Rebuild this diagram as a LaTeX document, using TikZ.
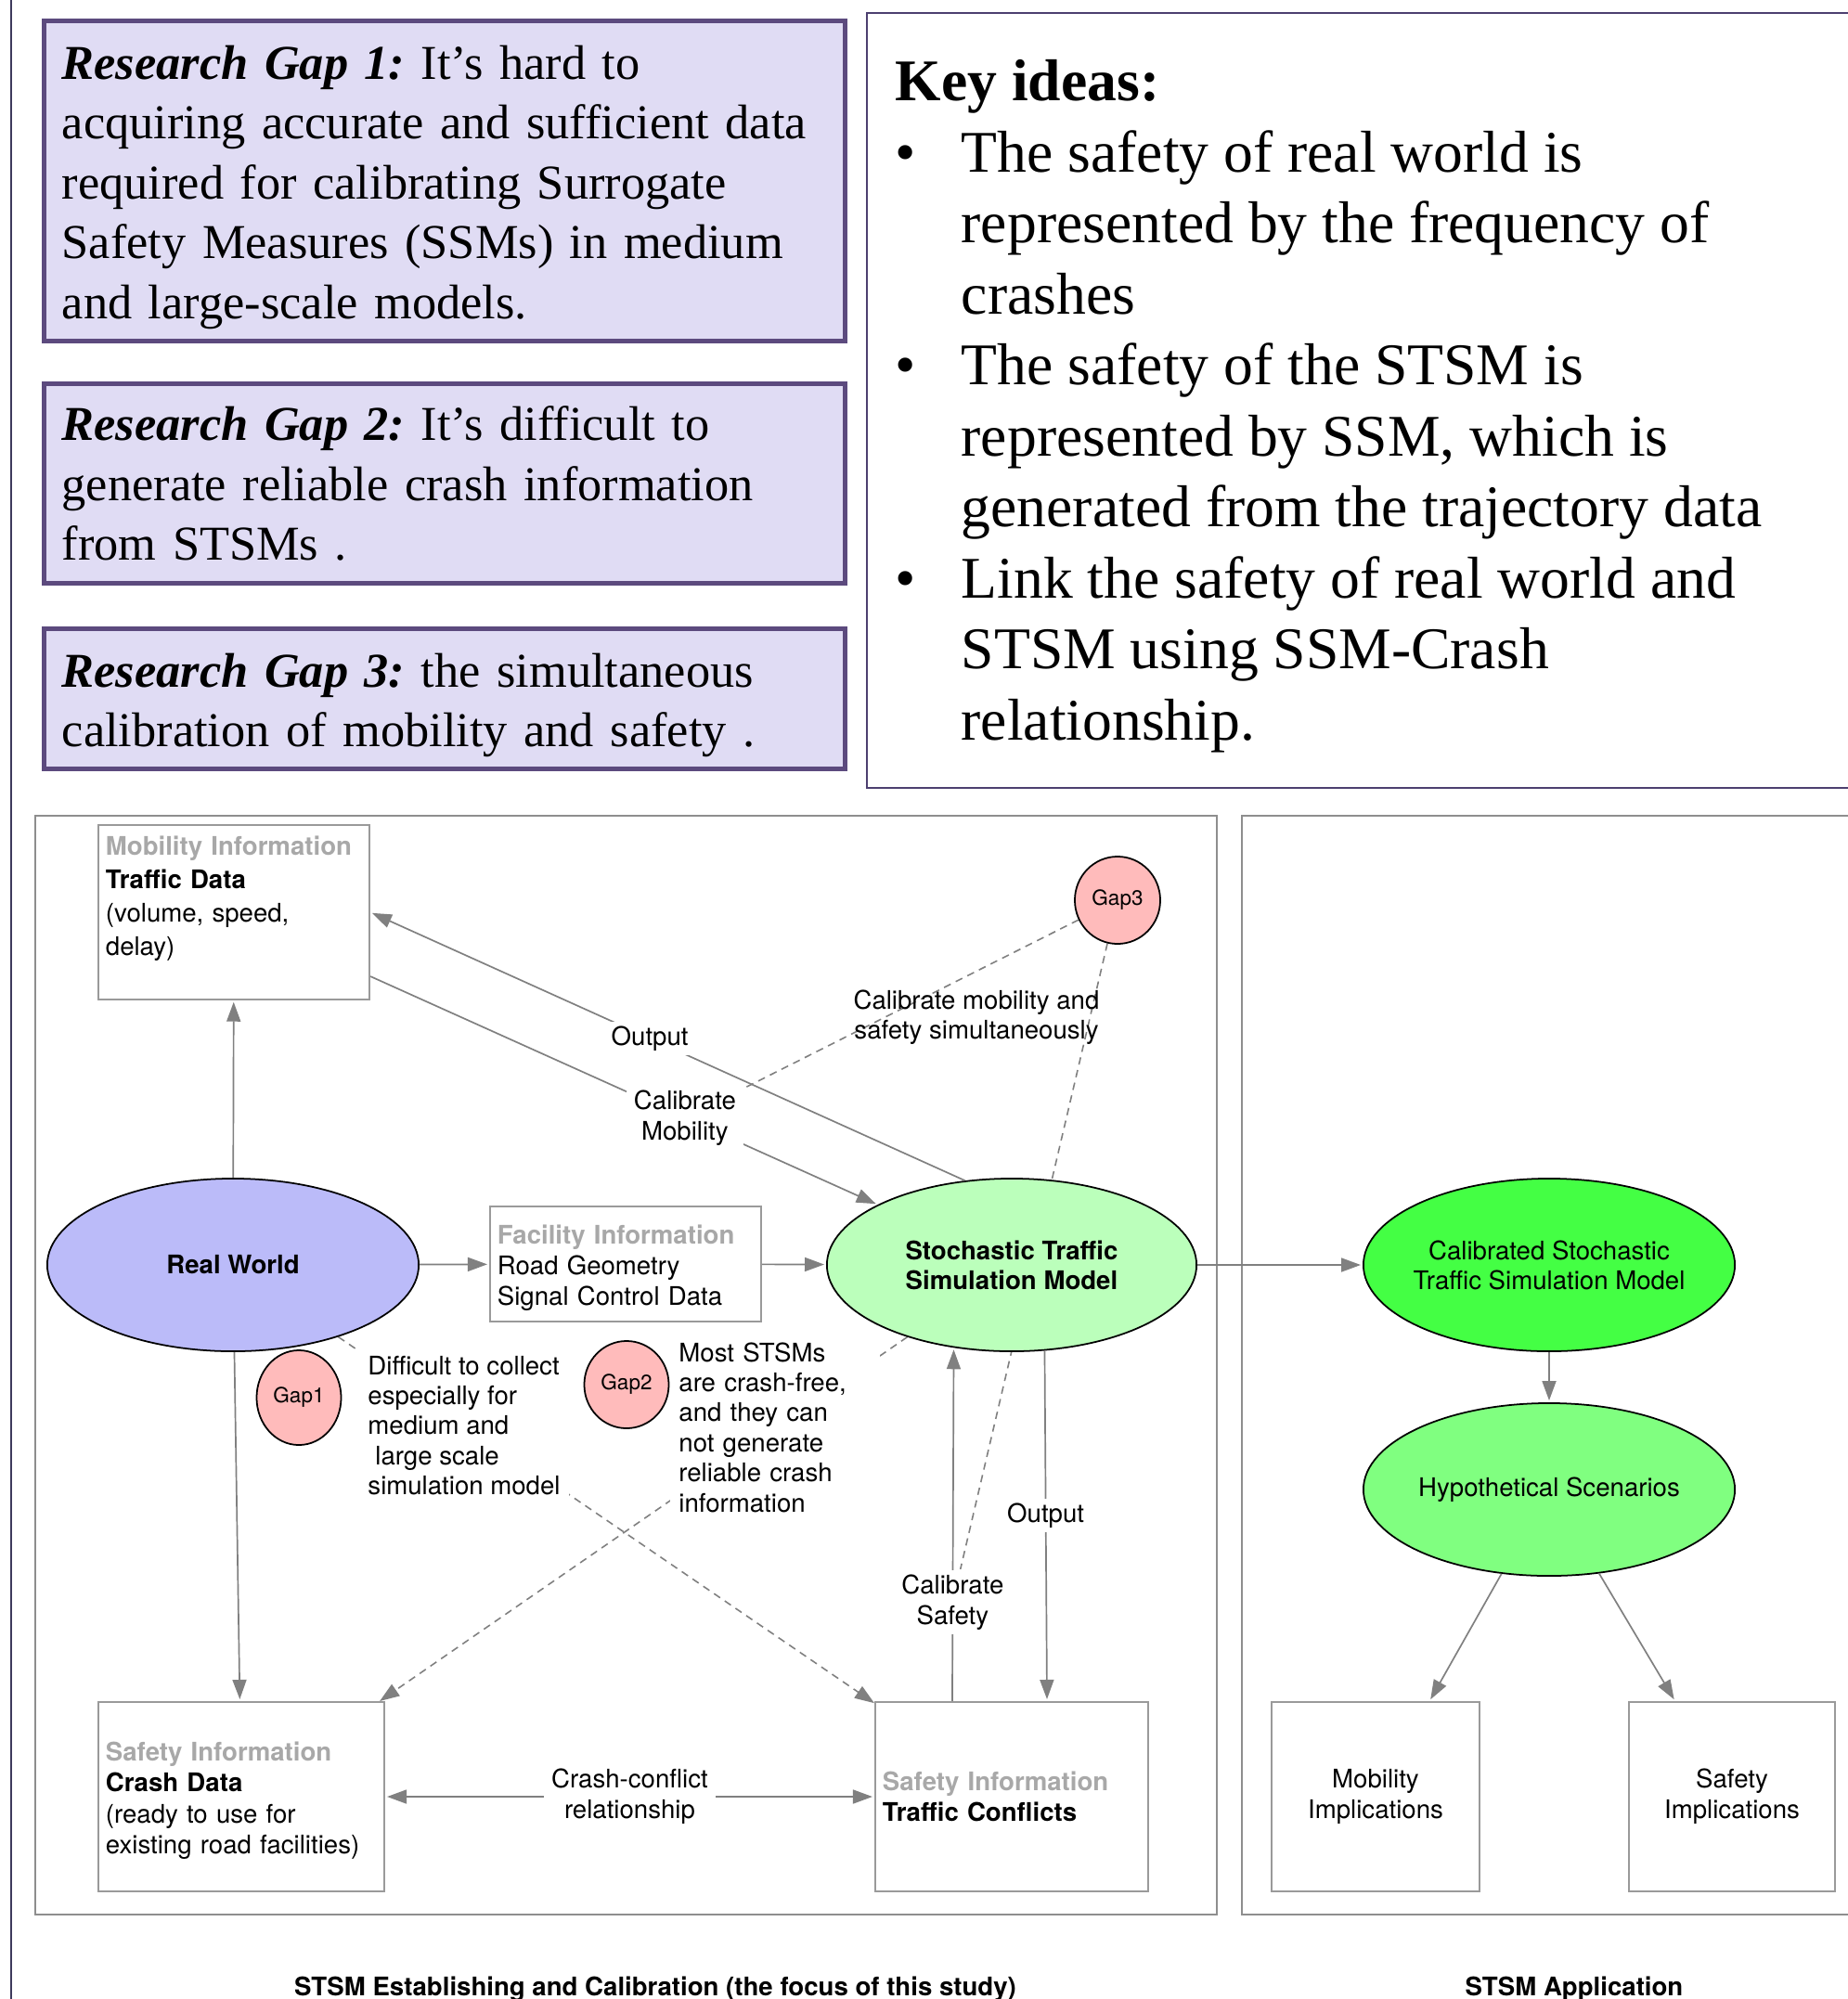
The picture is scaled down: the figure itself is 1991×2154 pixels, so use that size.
\documentclass[tikz,border=0pt]{standalone}
\usepackage{fontspec}
\setmainfont{Liberation Serif}
\setsansfont{TeX Gyre Heros}
\usepackage{xcolor}
\usepackage{tikz}
\usetikzlibrary{shapes.geometric, arrows.meta, backgrounds}

\definecolor{gapfill}{HTML}{E0DCF4}
\definecolor{gapborder}{HTML}{5C4A7E}
\definecolor{keyborder}{HTML}{4D4070}
\definecolor{rulecol}{HTML}{3E3A5C}
\definecolor{panelgray}{HTML}{8E8E8E}
\definecolor{boxgray}{HTML}{9A9A9A}
\definecolor{infogray}{HTML}{A8A8A8}
\definecolor{conngray}{HTML}{808080}
\definecolor{rwfill}{HTML}{BBBBF9}
\definecolor{stsmfill}{HTML}{BBFFBB}
\definecolor{calfill}{HTML}{44FF44}
\definecolor{hypfill}{HTML}{80FF80}
\definecolor{gapred}{HTML}{FFBBBB}

\tikzset{>={Triangle[length=2.1mm,width=1.5mm]},
conn/.style={color=conngray, line width=0.48pt, shorten >=0.2mm},
gapline/.style={color=conngray, line width=0.45pt, dash pattern=on 0.8mm off 0.6mm},
lbl/.style={fill=white, text=black, inner xsep=0.08cm, inner ysep=0.05cm, align=center,
  font=\sffamily\fontsize{7.85}{9.3}\selectfont},
note/.style={fill=white, inner sep=0.09cm, align=left,
  font=\sffamily\fontsize{7.85}{9.2}\selectfont},
infobox/.style={rectangle, draw=boxgray, line width=0.55pt, inner xsep=0.08cm,
  align=left, font=\sffamily\fontsize{7.85}{9.4}\selectfont},
model/.style={ellipse, draw=black, line width=0.5pt, inner xsep=-0.1cm, inner ysep=0pt,
  minimum width=4cm, minimum height=1.86cm, align=center,
  font=\sffamily\fontsize{7.85}{9.1}\selectfont},
gapdot/.style={ellipse, draw=black, line width=0.5pt, fill=gapred, inner sep=0pt,
  minimum width=0.91cm, minimum height=0.94cm, font=\sffamily\fontsize{6.4}{7}\selectfont},
gapbox/.style={rectangle, draw=gapborder, line width=1.4pt, fill=gapfill,
  text width=8.24cm, inner xsep=0.19cm, align=left,
  font=\fontsize{14.9}{18.35}\selectfont\frenchspacing},
panel/.style={draw=panelgray, line width=0.55pt},
caption/.style={anchor=base, font=\sffamily\bfseries\fontsize{7.85}{9}\selectfont}
}
\newcommand{\infohead}[1]{{\color{infogray}\bfseries #1}}
\newcommand{\gaphead}[1]{{\bfseries\itshape #1}}
\newcommand{\keybullet}{\makebox[0.71cm][l]{\textbullet}}
\newcommand{\keyindent}{\hspace*{0.71cm}}

\begin{document}
\begin{tikzpicture}[x=0.01cm, y=-0.01cm]
\useasboundingbox (0,0) rectangle (1991,2154);
\draw[rulecol, line width=0.85pt] (12,-10) -- (12,2170);

% research gaps
\node[gapbox, minimum height=3.44cm] (gap1box) at (479,195) {\rule{0pt}{0.5cm}\gaphead{Research Gap 1:} It's hard to\\
acquiring accurate and sufficient data\\
required for calibrating Surrogate\\
Safety Measures (SSMs) in medium\\
and large-scale models.};
\node[gapbox, minimum height=2.14cm] (gap2box) at (479,521) {\gaphead{Research Gap 2:} It's difficult to\\
generate reliable crash information\\
from STSMs .};
\node[gapbox, minimum height=1.51cm] (gap3box) at (479,753) {\rule{0pt}{0.5cm}\gaphead{Research Gap 3:} the simultaneous\\
calibration of mobility and safety .};

% key ideas
\draw[keyborder, line width=0.7pt] (934,14) rectangle (2010,849);
\node[anchor=north west, inner sep=0pt, align=left, font=\fontsize{18.1}{21.75}\selectfont] (keytext) at (964,64) {\textbf{Key ideas:}\\
\keybullet The safety of real world is\\
\keyindent represented by the frequency of\\
\keyindent crashes\\
\keybullet The safety of the STSM is\\
\keyindent represented by SSM, which is\\
\keyindent generated from the trajectory data\\
\keybullet Link the safety of real world and\\
\keyindent STSM using SSM-Crash\\
\keyindent relationship.};

% panels
\draw[panel] (38,879) rectangle (1311,2063);
\draw[panel] (1338,879) rectangle (2010,2063);
\node[caption] (capleft) at (706,2150) {STSM Establishing and Calibration (the focus of this study)};
\node[caption] (capright) at (1696,2150) {STSM Application};

% information boxes
\node[infobox, text width=2.76cm, minimum height=1.77cm, font=\sffamily\fontsize{7.85}{10.2}\selectfont] (mob) at (252,983)
{\infohead{Mobility Information}\\ \textbf{Traffic Data}\\ (volume, speed,\\ delay)\\ \mbox{}};
\node[infobox, text width=2.76cm, minimum height=1.22cm] (fac) at (674,1362)
{\rule{0pt}{0.29cm}\infohead{Facility Information}\\ Road Geometry\\ Signal Control Data};
\node[infobox, text width=2.92cm, minimum height=2.04cm] (crash) at (260,1936)
{\rule{0pt}{0.29cm}\infohead{Safety Information}\\ \textbf{Crash Data}\\ (ready to use for\\ existing road facilities)};
\node[infobox, text width=2.78cm, minimum height=2.04cm] (tc) at (1090,1936)
{\infohead{Safety Information}\\ \textbf{Traffic Conflicts}};
\node[infobox, align=center, text width=2.08cm, minimum height=2.04cm] (mobimp) at (1482,1936) {Mobility\\ Implications};
\node[infobox, align=center, text width=2.06cm, minimum height=2.04cm] (safimp) at (1866,1936) {Safety\\ Implications};

% models
\node[model, fill=rwfill, font=\sffamily\bfseries\fontsize{7.85}{9.1}\selectfont] (rw) at (251,1363) {Real World};
\node[model, fill=stsmfill, minimum width=3.98cm, font=\sffamily\bfseries\fontsize{7.85}{9.1}\selectfont] (stsm) at (1090,1363) {Stochastic Traffic\\ Simulation Model};
\node[model, fill=calfill] (cal) at (1669,1363) {Calibrated Stochastic\\ Traffic Simulation Model};
\node[model, fill=hypfill] (hyp) at (1669,1605) {Hypothetical Scenarios};

% gaps
\node[gapdot, minimum height=1.02cm] (gap1) at (322,1506) {Gap1};
\node[gapdot] (gap2) at (675,1492) {Gap2};
\node[gapdot, minimum width=0.92cm] (gap3) at (1204,970) {Gap3};
\node[note] (gap1note) at (500,1536) {Difficult to collect\\ especially for\\ medium and\\ \hspace*{0.08cm}large scale\\ simulation model};
\node[note, text width=2.07cm] (gap2note) at (835,1538) {Most STSMs\\ are crash-free,\\ and they can\\ not generate\\ reliable crash\\ information};
\node[note, fill=none, align=center] (gap3note) at (1052,1096) {Calibrate mobility and\\ safety simultaneously};

\draw[conn]
(rw) edge[->] (mob)
(rw) edge[->] (fac)
(fac) edge[->] (stsm)
(stsm) edge[->] (cal)
(cal) edge[->] (hyp)
(hyp) edge[->] (mobimp)
(hyp) edge[->] (safimp)
(rw) edge[->] (crash)
(crash) edge[<->, shorten <=0.2mm] node[lbl] {Crash-conflict\\ relationship} (tc)
(stsm.119) edge[->] node[lbl,pos=.53] {Output} (mob.east)
([yshift=-0.69cm]mob.east) edge[->] node[lbl,pos=.62] (calmob) {Calibrate\\ Mobility} (stsm)
([xshift=-0.64cm]tc.north) edge[->] node[lbl,pos=.28] (calsafe) {Calibrate\\ Safety} (stsm.235)
(stsm.291) edge[->] node[lbl,pos=.47] {Output} ([xshift=0.38cm]tc.north)
;

\begin{scope}[on background layer]
\draw[gapline]
(gap3) edge (calmob)
(gap3) edge (calsafe)
(rw) edge[->] (tc)
(stsm) edge[->] (crash)
;
\end{scope}
\end{tikzpicture}
\end{document}
